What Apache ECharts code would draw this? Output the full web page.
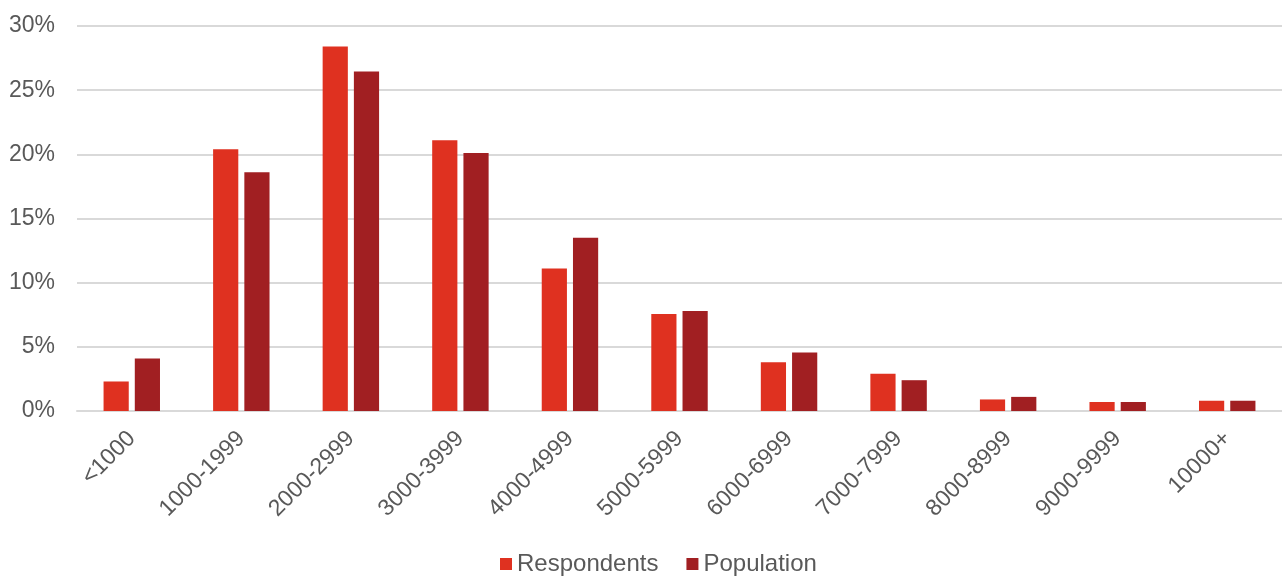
<!DOCTYPE html>
<html>
<head>
<meta charset="utf-8">
<script src="https://cdn.jsdelivr.net/npm/echarts@6/dist/echarts.min.js"></script>
<style>html,body{margin:0;padding:0;background:#fff}#c{width:1282px;height:576px}</style>
</head>
<body>
<div id="c"></div>
<script>
const categories = ['<1000','1000-1999','2000-2999','3000-3999','4000-4999','5000-5999','6000-6999','7000-7999','8000-8999','9000-9999','10000+'];
const respondents = [2.3, 20.4, 28.4, 21.1, 11.1, 7.55, 3.8, 2.9, 0.9, 0.7, 0.8];
const population = [4.1, 18.6, 26.45, 20.1, 13.5, 7.8, 4.55, 2.4, 1.1, 0.7, 0.8];
const yTicks = [0, 5, 10, 15, 20, 25, 30];

const chart = echarts.init(document.getElementById('c'), null, {renderer: 'canvas'});
const font = 'Liberation Sans, Arial, sans-serif';
chart.setOption({
  animation: false,
  grid: {left: 77, right: 0, top: 26, bottom: 165},
  legend: {
    top: 547, left: 495,
    itemWidth: 12, itemHeight: 12, itemGap: 28,
    icon: 'rect',
    textStyle: {fontFamily: font, fontSize: 24, color: '#595959'},
    data: ['Respondents', 'Population']
  },
  xAxis: {
    type: 'category', data: categories,
    axisLine: {show: true, lineStyle: {color: '#d9d9d9', width: 2}},
    axisTick: {show: false},
    axisLabel: {rotate: 45, fontFamily: font, fontSize: 23, color: '#595959', margin: 24, interval: 0}
  },
  yAxis: {
    type: 'value', min: yTicks[0], max: yTicks[yTicks.length-1], interval: 5,
    axisLine: {show: false}, axisTick: {show: false},
    splitLine: {lineStyle: {color: '#d9d9d9', width: 2}},
    axisLabel: {formatter: v => v + '%', fontFamily: font, fontSize: 23, color: '#595959', margin: 22}
  },
  series: [
    {name: 'Respondents', type: 'bar', data: respondents, barWidth: '23%', barGap: '24%',
     itemStyle: {color: '#DF3120'}},
    {name: 'Population', type: 'bar', data: population, barWidth: '23%',
     itemStyle: {color: '#A11F22'}}
  ]
});
</script>
</body>
</html>
